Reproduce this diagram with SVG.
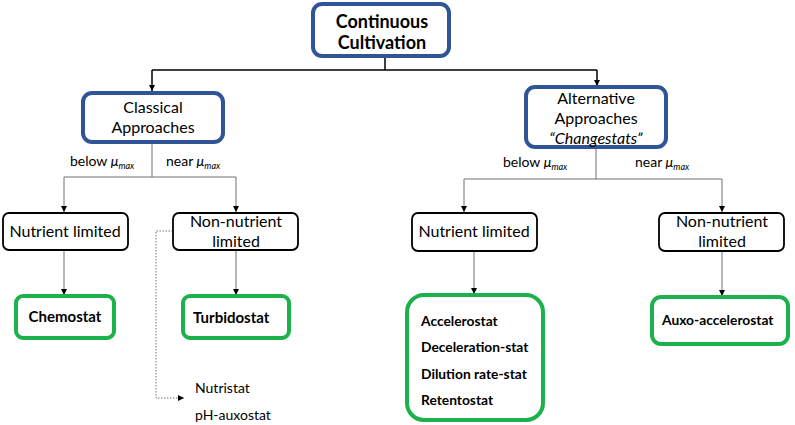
<svg xmlns="http://www.w3.org/2000/svg" width="795" height="425" viewBox="0 0 795 425">
<defs>
<style>
text{font-family:Lato,"Open Sans","Liberation Sans",sans-serif;fill:#000}
.t{font-size:16px}
.b{font-size:15px;font-weight:bold}
.s{font-size:13.8px;font-weight:bold}
.h{font-size:18px;font-weight:bold}
.l{font-size:14px}
.blue{fill:#fff;stroke:#2f5597;stroke-width:4}
.blk{fill:#fff;stroke:#000;stroke-width:1.8}
.grn{fill:#fff;stroke:#1db14b;stroke-width:4}
.c{fill:none;stroke:#000;stroke-width:1.5}
.g{fill:none;stroke:#707070;stroke-width:1}
.d{fill:none;stroke:#707070;stroke-width:1;stroke-dasharray:1.5 1.5}
</style>
<marker id="a" markerWidth="8" markerHeight="8" refX="6" refY="3" orient="auto" markerUnits="userSpaceOnUse">
<path d="M0,0 L6,3 L0,6 Z" fill="#000"/>
</marker>
</defs>
<g id="connectors">
<path class="c" d="M385,56 V70 M152,70 H597"/>
<path class="c" d="M152,70 V91" marker-end="url(#a)"/>
<path class="c" d="M597,70 V86" marker-end="url(#a)"/>
<path class="g" d="M152,142 V177 M64,177 H236 M596,147 V179 M464,179 H722"/>
<path class="g" d="M64,177 V212" marker-end="url(#a)"/>
<path class="g" d="M236,177 V212" marker-end="url(#a)"/>
<path class="g" d="M464,179 V212" marker-end="url(#a)"/>
<path class="g" d="M722,179 V212" marker-end="url(#a)"/>
<path class="g" d="M64,250 V295" marker-end="url(#a)"/>
<path class="g" d="M236,250 V295" marker-end="url(#a)"/>
<path class="g" d="M474,251 V294" marker-end="url(#a)"/>
<path class="g" d="M722,251 V296" marker-end="url(#a)"/>
<path class="d" d="M173,231 H156 V398 H184" marker-end="url(#a)"/>
</g>
<g id="root">
<rect class="blue" x="313" y="4" width="136" height="52" rx="9"/>
<text class="h" x="382" y="28" text-anchor="middle">Continuous</text>
<text class="h" x="382" y="49" text-anchor="middle">Cultivation</text>
</g>
<g id="classical">
<rect class="blue" x="83" y="93" width="140" height="49" rx="9"/>
<text class="t" x="153" y="113" text-anchor="middle">Classical</text>
<text class="t" x="153" y="133" text-anchor="middle">Approaches</text>
</g>
<g id="alternative">
<rect class="blue" x="526" y="87" width="140" height="60" rx="9"/>
<text class="t" x="596" y="104" text-anchor="middle">Alternative</text>
<text class="t" x="596" y="124" text-anchor="middle">Approaches</text>
<text class="t" x="596" y="144" text-anchor="middle" font-style="italic">“Changestats”</text>
</g>
<g id="labels">
<text class="l" x="70" y="166">below <tspan font-style="italic">μ</tspan><tspan font-style="italic" font-size="9" dy="3">max</tspan></text>
<text class="l" x="166" y="166">near <tspan font-style="italic">μ</tspan><tspan font-style="italic" font-size="9" dy="3">max</tspan></text>
<text class="l" x="503" y="167">below <tspan font-style="italic">μ</tspan><tspan font-style="italic" font-size="9" dy="3">max</tspan></text>
<text class="l" x="635" y="167">near <tspan font-style="italic">μ</tspan><tspan font-style="italic" font-size="9" dy="3">max</tspan></text>
</g>
<g id="nutrient-left">
<rect class="blk" x="3" y="213" width="125" height="37" rx="6"/>
<text class="t" x="65" y="237" text-anchor="middle">Nutrient limited</text>
</g>
<g id="nonnutrient-left">
<rect class="blk" x="173" y="213" width="125" height="37" rx="6"/>
<text class="t" x="236" y="227" text-anchor="middle">Non-nutrient</text>
<text class="t" x="236" y="247" text-anchor="middle">limited</text>
</g>
<g id="nutrient-right">
<rect class="blk" x="412" y="213" width="125" height="38" rx="6"/>
<text class="t" x="474" y="237" text-anchor="middle">Nutrient limited</text>
</g>
<g id="nonnutrient-right">
<rect class="blk" x="659" y="213" width="125" height="38" rx="6"/>
<text class="t" x="722" y="227" text-anchor="middle">Non-nutrient</text>
<text class="t" x="722" y="247" text-anchor="middle">limited</text>
</g>
<g id="chemostat">
<rect class="grn" x="16" y="296" width="98" height="42" rx="7"/>
<text class="b" x="65" y="322" text-anchor="middle">Chemostat</text>
</g>
<g id="turbidostat">
<rect class="grn" x="183" y="296" width="106" height="42" rx="7"/>
<text class="b" x="193" y="323">Turbidostat</text>
</g>
<g id="changestats">
<rect class="grn" x="407" y="295" width="136" height="125" rx="17"/>
<text class="s" x="421" y="326">Accelerostat</text>
<text class="s" x="421" y="352">Deceleration-stat</text>
<text class="s" x="421" y="379">Dilution rate-stat</text>
<text class="s" x="421" y="405">Retentostat</text>
</g>
<g id="auxo">
<rect class="grn" x="652" y="297" width="136" height="47" rx="9"/>
<text class="s" x="662" y="325">Auxo-accelerostat</text>
</g>
<g id="other">
<text class="l" x="195" y="393">Nutristat</text>
<text class="l" x="195" y="420">pH-auxostat</text>
</g>
</svg>
